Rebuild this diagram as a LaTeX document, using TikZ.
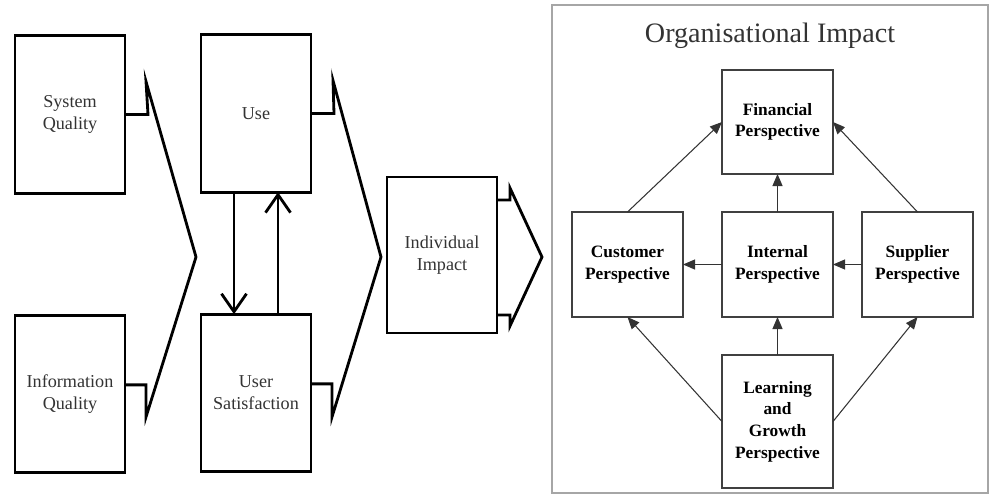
\documentclass[tikz,border=0pt]{standalone}
\usepackage{fontspec}
\setmainfont{Liberation Serif}
\usetikzlibrary{arrows.meta,positioning}

\begin{document}
\begin{tikzpicture}[x=0.03cm,y=-0.03cm,thick,
    qual node/.style={rectangle,draw,line width=2.4pt,inner sep=0pt,outer sep=0pt,minimum width=3.3cm,minimum height=4.72cm,align=center,text=black!80,font=\fontsize{15.5}{18.7}\selectfont},
    persp node/.style={rectangle,draw=black!75,line width=1.6pt,inner sep=0pt,outer sep=0pt,minimum width=3.33cm,minimum height=3.15cm,align=center,font=\fontsize{14.8}{18.4}\selectfont\bfseries},
    wedge/.style={line width=2.4pt,line join=miter},
    link/.style={line width=2.4pt,-{Straight Barb[length=5.4mm,width=7.5mm]}},
    persp edge/.style={draw=black!80,line width=0.9pt,-{Triangle[length=3.6mm,width=3mm]}}]

    \useasboundingbox (0,0) rectangle (989,495);

    % individual level
    \node[qual node] (sysq) at (70,114.5) {System\\Quality};
    \node[qual node] (infq) [below=3.66cm of sysq] {Information\\Quality};
    \node[qual node] (use) at (256,113.5) {Use};
    \node[qual node] (usat) [below=3.66cm of use] {User\\Satisfaction};
    \node[qual node,minimum height=4.68cm] (indiv) at (442,255) {Individual\\Impact};

    \draw[wedge] (sysq.east) -- ++(23,0) -- ++(-2,-33) -- (196,257) -- (146,417) |- ([yshift=0.27cm]infq.east);
    \draw[wedge] (use.east) -- ++(23,0) -- ++(-1,-33) -- (381,257) -- (332,417) |- ([yshift=0.27cm]usat.east);
    \draw[wedge] ([yshift=1.65cm]indiv.east) -- ++(13,0) -- ++(0,-12) -- (542,257) -- (510,326) |- ([yshift=-1.8cm]indiv.east);

    \draw[link] ([xshift=-0.66cm]use.south) -- ([xshift=-0.66cm]usat.north);
    \draw[link] ([xshift=0.66cm]usat.north) -- ([xshift=0.66cm]use.south);

    % organisational level
    \draw[black!35,line width=1pt] (552,5) rectangle (988,493);
    \node[text=black!80,font=\fontsize{24}{28}\selectfont] (title) at (770,36) {Organisational Impact};

    \node[persp node] (int) at (777.5,264.5) {Internal\\Perspective};
    \node[persp node,minimum height=3.12cm] (fin) [above=1.14cm of int] {Financial\\Perspective};
    \node[persp node,minimum height=3.99cm] (learn) [below=1.14cm of int] {Learning\\and\\Growth\\Perspective};
    \node[persp node] (cust) [left=1.17cm of int] {Customer\\Perspective};
    \node[persp node] (supp) [right=0.87cm of int] {Supplier\\Perspective};

    \foreach \from/\to in {int.north/fin.south, cust.north/fin.west, supp.north/fin.east,
        int.west/cust.east, supp.west/int.east,
        learn.north/int.south, learn.west/cust.south, learn.east/supp.south}{
        \draw[persp edge] (\from) -- (\to);
    }

\end{tikzpicture}
\end{document}
